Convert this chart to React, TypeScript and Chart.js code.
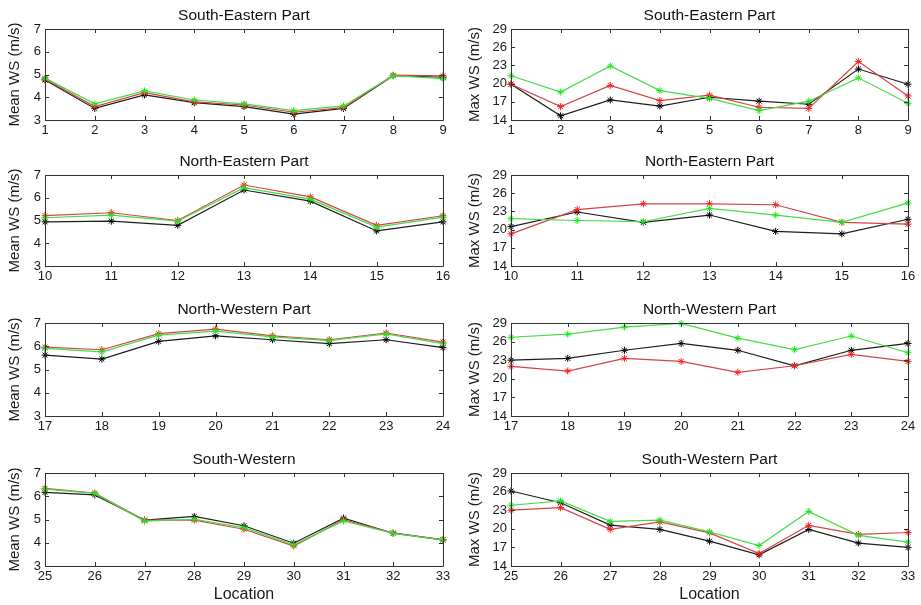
import { useEffect, useRef } from "react";
import { Chart, registerables } from "chart.js";

Chart.register(...registerables);

const FONT = "'Liberation Sans', Arial, Helvetica, sans-serif";

// Locations per region
const seLocations = [1, 2, 3, 4, 5, 6, 7, 8, 9];
const neLocations = [10, 11, 12, 13, 14, 15, 16];
const nwLocations = [17, 18, 19, 20, 21, 22, 23, 24];
const swLocations = [25, 26, 27, 28, 29, 30, 31, 32, 33];

// Tick labels of the two value axes
const meanTicks = [3, 4, 5, 6, 7];
const maxTicks = [14, 17, 20, 23, 26, 29];

// South-Eastern part
const seMeanBlack = [4.76, 3.51, 4.1, 3.76, 3.59, 3.26, 3.51, 4.95, 4.88];
const seMeanRed = [4.8, 3.59, 4.2, 3.8, 3.66, 3.34, 3.54, 4.97, 4.94];
const seMeanGreen = [4.84, 3.71, 4.28, 3.88, 3.71, 3.41, 3.62, 4.95, 4.82];
const seMaxBlack = [19.9, 14.7, 17.3, 16.3, 17.75, 17.1, 16.6, 22.4, 19.9];
const seMaxRed = [19.9, 16.2, 19.7, 17.2, 18.1, 16.1, 15.9, 23.65, 17.97];
const seMaxGreen = [21.3, 18.6, 22.9, 18.85, 17.55, 15.55, 17.1, 20.95, 16.75];

// North-Eastern part
const neMeanBlack = [4.94, 4.97, 4.79, 6.34, 5.85, 4.54, 4.94];
const neMeanRed = [5.21, 5.34, 5.0, 6.56, 6.04, 4.79, 5.21];
const neMeanGreen = [5.12, 5.24, 4.97, 6.44, 5.94, 4.71, 5.15];
const neMaxBlack = [20.5, 22.9, 21.2, 22.4, 19.7, 19.3, 21.7];
const neMaxRed = [19.3, 23.3, 24.25, 24.25, 24.1, 21.2, 20.9];
const neMaxGreen = [21.8, 21.5, 21.3, 23.5, 22.4, 21.2, 24.4];

// North-Western part
const nwMeanBlack = [5.62, 5.45, 6.21, 6.45, 6.28, 6.11, 6.28, 5.94];
const nwMeanRed = [5.96, 5.85, 6.54, 6.74, 6.45, 6.28, 6.57, 6.18];
const nwMeanGreen = [5.91, 5.76, 6.48, 6.65, 6.4, 6.24, 6.53, 6.11];
const nwMaxBlack = [23.0, 23.3, 24.6, 25.7, 24.6, 22.1, 24.6, 25.7];
const nwMaxRed = [22.0, 21.25, 23.3, 22.8, 21.05, 22.1, 23.95, 22.8];
const nwMaxGreen = [26.7, 27.2, 28.35, 28.95, 26.55, 24.7, 26.9, 24.2];

// South-Western part
const swMeanBlack = [6.17, 6.06, 4.97, 5.13, 4.73, 3.98, 5.06, 4.41, 4.12];
const swMeanRed = [6.34, 6.14, 4.97, 4.97, 4.58, 3.86, 4.99, 4.42, 4.14];
const swMeanGreen = [6.31, 6.12, 4.93, 5.01, 4.65, 3.91, 4.94, 4.4, 4.12];
const swMaxBlack = [26.1, 24.2, 20.6, 19.9, 18.0, 15.8, 19.9, 17.7, 17.0];
const swMaxRed = [23.0, 23.4, 19.9, 21.1, 19.35, 16.0, 20.56, 19.1, 19.4];
const swMaxGreen = [23.8, 24.5, 21.2, 21.4, 19.5, 17.3, 22.8, 18.95, 17.85];

type PanelProps = {
  left: number;
  top: number;
  width: number;
  height: number;
  yWidth: number;
  xHeight: number;
  padTop: number;
  padRight: number;
  title: string;
  yLabel: string;
  xLabel?: string;
  locations: number[];
  black: number[];
  red: number[];
  green: number[];
  yTicks: number[];
};

// Axes box with inward tick marks on all four sides, plus the panel title
const boxPlugin = {
  id: "axesBox",
  afterDraw(chart: any, _args: any, opts: any) {
    const { ctx, chartArea } = chart;
    const { left, right, top, bottom } = chartArea;
    const xs = chart.scales.x;
    const ys = chart.scales.y;
    const L = 4;
    ctx.save();
    ctx.strokeStyle = "#333333";
    ctx.lineWidth = 1;
    ctx.beginPath();
    ctx.rect(Math.round(left) + 0.5, Math.round(top) + 0.5, Math.round(right - left), Math.round(bottom - top));
    for (const t of xs.ticks) {
      const px = Math.round(xs.getPixelForValue(t.value)) + 0.5;
      ctx.moveTo(px, bottom);
      ctx.lineTo(px, bottom - L);
      ctx.moveTo(px, top);
      ctx.lineTo(px, top + L);
    }
    for (const t of ys.ticks) {
      const py = Math.round(ys.getPixelForValue(t.value)) + 0.5;
      ctx.moveTo(left, py);
      ctx.lineTo(left + L, py);
      ctx.moveTo(right, py);
      ctx.lineTo(right - L, py);
    }
    ctx.stroke();
    ctx.fillStyle = "#111111";
    ctx.font = `15.5px ${FONT}`;
    ctx.textAlign = "center";
    ctx.textBaseline = "alphabetic";
    ctx.fillText(opts.text, (left + right) / 2, top - 9);
    ctx.restore();
  },
};

function Panel(p: PanelProps) {
  const ref = useRef<HTMLCanvasElement | null>(null);

  useEffect(() => {
    if (!ref.current) return;
    const pts = (vals: number[]) => p.locations.map((x, i) => ({ x, y: vals[i] }));
    const ds = (label: string, vals: number[], line: string, mark: string, order: number) => ({
      label,
      data: pts(vals),
      borderColor: line,
      backgroundColor: mark,
      borderWidth: 1.2,
      pointStyle: "star" as const,
      pointRadius: 3.5,
      pointBorderColor: mark,
      pointBorderWidth: 1,
      tension: 0,
      clip: false as const,
      order,
    });
    const chart = new Chart(ref.current, {
      type: "line",
      data: {
        datasets: [
          ds("A", p.black, "#1c1c1c", "#000000", 2),
          ds("B", p.red, "#d24545", "#ff1a1a", 1),
          ds("C", p.green, "#45dc45", "#1ee61e", 0),
        ],
      },
      plugins: [boxPlugin],
      options: {
        animation: false,
        responsive: false,
        devicePixelRatio: 1,
        events: [],
        layout: { padding: { top: p.padTop, right: p.padRight, left: 0, bottom: 0 }, autoPadding: false },
        plugins: {
          legend: { display: false },
          tooltip: { enabled: false },
          title: { display: false },
          axesBox: { text: p.title },
        } as any,
        scales: {
          x: {
            type: "linear",
            min: p.locations[0],
            max: p.locations[p.locations.length - 1],
            afterBuildTicks: (s: any) => {
              s.ticks = p.locations.map((v) => ({ value: v }));
            },
            afterFit: (s: any) => {
              s.height = p.xHeight;
            },
            grid: { display: false, drawTicks: false },
            border: { display: false },
            ticks: {
              autoSkip: false,
              maxRotation: 0,
              padding: 3,
              color: "#1a1a1a",
              font: { family: FONT, size: 13 },
            },
            title: {
              display: !!p.xLabel,
              text: p.xLabel || "",
              color: "#1a1a1a",
              font: { family: FONT, size: 16 },
              padding: { top: 0, bottom: 0 },
            },
          },
          y: {
            type: "linear",
            min: p.yTicks[0],
            max: p.yTicks[p.yTicks.length - 1],
            afterBuildTicks: (s: any) => {
              s.ticks = p.yTicks.map((v) => ({ value: v }));
            },
            afterFit: (s: any) => {
              s.width = p.yWidth;
            },
            grid: { display: false, drawTicks: false },
            border: { display: false },
            ticks: {
              autoSkip: false,
              padding: 4,
              color: "#1a1a1a",
              font: { family: FONT, size: 13 },
            },
            title: {
              display: true,
              text: p.yLabel,
              color: "#1a1a1a",
              font: { family: FONT, size: 15 },
              padding: { top: 6, bottom: 0 },
            },
          },
        },
      },
    } as any);
    return () => chart.destroy();
  }, []);

  return (
    <canvas
      ref={ref}
      width={p.width}
      height={p.height}
      style={{ position: "absolute", left: p.left, top: p.top, width: p.width, height: p.height }}
    />
  );
}

// Plot-area rows: top edge and height of each row of panels
const rowTops = [29, 175, 323, 473];
const rowHeights = [91, 91, 93, 93];
const TITLE_SPACE = 28;

export default function App() {
  const rows = [
    {
      title: ["South-Eastern Part", "South-Eastern Part"],
      locations: seLocations,
      mean: [seMeanBlack, seMeanRed, seMeanGreen],
      max: [seMaxBlack, seMaxRed, seMaxGreen],
    },
    {
      title: ["North-Eastern Part", "North-Eastern Part"],
      locations: neLocations,
      mean: [neMeanBlack, neMeanRed, neMeanGreen],
      max: [neMaxBlack, neMaxRed, neMaxGreen],
    },
    {
      title: ["North-Western Part", "North-Western Part"],
      locations: nwLocations,
      mean: [nwMeanBlack, nwMeanRed, nwMeanGreen],
      max: [nwMaxBlack, nwMaxRed, nwMaxGreen],
    },
    {
      title: ["South-Western", "South-Western Part"],
      locations: swLocations,
      mean: [swMeanBlack, swMeanRed, swMeanGreen],
      max: [swMaxBlack, swMaxRed, swMaxGreen],
    },
  ];

  return (
    <div
      style={{
        position: "absolute",
        left: 0,
        top: 0,
        width: 921,
        height: 605,
        background: "#ffffff",
        overflow: "hidden",
      }}
    >
      {rows.map((r, i) => {
        const last = i === rows.length - 1;
        const xHeight = last ? 38 : 24;
        const h = TITLE_SPACE + rowHeights[i] + xHeight;
        const top = rowTops[i] - TITLE_SPACE;
        return [
          <Panel
            key={`m${i}`}
            left={0}
            top={top}
            width={457}
            height={h}
            yWidth={45}
            xHeight={xHeight}
            padTop={TITLE_SPACE}
            padRight={14}
            title={r.title[0]}
            yLabel="Mean WS (m/s)"
            xLabel={last ? "Location" : undefined}
            locations={r.locations}
            black={r.mean[0]}
            red={r.mean[1]}
            green={r.mean[2]}
            yTicks={meanTicks}
          />,
          <Panel
            key={`x${i}`}
            left={460}
            top={top}
            width={461}
            height={h}
            yWidth={51}
            xHeight={xHeight}
            padTop={TITLE_SPACE}
            padRight={13}
            title={r.title[1]}
            yLabel="Max WS (m/s)"
            xLabel={last ? "Location" : undefined}
            locations={r.locations}
            black={r.max[0]}
            red={r.max[1]}
            green={r.max[2]}
            yTicks={maxTicks}
          />,
        ];
      })}
    </div>
  );
}
